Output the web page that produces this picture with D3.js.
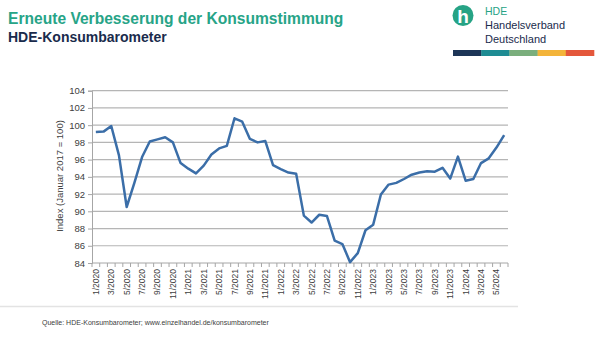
<!DOCTYPE html>
<html><head><meta charset="utf-8">
<script src="https://cdn.jsdelivr.net/npm/d3@7"></script>
<style>
html,body{margin:0;padding:0;background:#fff;}
svg{display:block;font-family:"Liberation Sans",Arial,sans-serif;}
</style></head>
<body><svg id="c" width="600" height="340"></svg>
<script>
const months = [];
for (let y = 2020; y <= 2024; y++) for (let m = 1; m <= 12; m++) { if (y === 2024 && m > 6) break; months.push(m + "/" + y); }
const values = [99.2,99.25,99.9,96.5,90.5,93.3,96.3,98.1,98.35,98.6,98.0,95.6,
  94.95,94.4,95.3,96.6,97.3,97.6,100.8,100.4,98.4,98.0,98.15,95.35,
  94.9,94.5,94.35,89.5,88.7,89.6,89.45,86.6,86.2,84.1,85.15,87.8,
  88.45,91.95,93.1,93.3,93.75,94.25,94.5,94.65,94.6,95.05,93.8,96.35,
  93.55,93.75,95.6,96.15,97.4,98.85];
const yTicks = [84,86,88,90,92,94,96,98,100,102,104];
const title = "Erneute Verbesserung der Konsumstimmung";
const subtitle = "HDE-Konsumbarometer";
const yLabel = "Index (Januar 2017 = 100)";
const source = "Quelle: HDE-Konsumbarometer; www.einzelhandel.de/konsumbarometer";
const barColors = ["#1d3557","#1e8c93","#7aae7c","#f3b43a","#e4573b"];

const svg = d3.select("#c");
const x = d3.scaleBand().domain(months).range([92, 508]).padding(0);
const y = d3.scaleLinear().domain([84,104]).range([263, 90.7]);

// title
svg.append("text").attr("x",8).attr("y",24).attr("fill","#27a487").attr("font-weight","bold").attr("font-size",15.6).text(title);
svg.append("text").attr("x",8).attr("y",42.3).attr("fill","#1a2b4c").attr("font-weight","bold").attr("font-size",14).text(subtitle);

// logo
const lg = svg.append("g");
lg.append("circle").attr("cx",463).attr("cy",15.5).attr("r",10.5).attr("fill","#26a385");
lg.append("text").attr("x",463).attr("y",23).attr("text-anchor","middle").attr("fill","#fff").attr("font-weight","bold").attr("font-size",19).text("h");
lg.append("text").attr("x",485).attr("y",15).attr("fill","#26a385").attr("font-size",10.5).text("HDE");
lg.append("text").attr("x",485).attr("y",29).attr("fill","#1a2b4c").attr("font-size",11).text("Handelsverband");
lg.append("text").attr("x",485).attr("y",43).attr("fill","#1a2b4c").attr("font-size",11).text("Deutschland");
const segW = (594-453)/barColors.length;
lg.selectAll("rect.bar").data(barColors).join("rect").attr("class","bar")
  .attr("x",(d,i)=>453+i*segW).attr("y",50).attr("width",segW+0.3).attr("height",6).attr("fill",d=>d);

// grid
svg.append("g").selectAll("line").data(yTicks.filter(t=>t>84)).join("line")
  .attr("x1",92).attr("x2",508).attr("y1",d=>y(d)).attr("y2",d=>y(d))
  .attr("stroke","#b5b5b5").attr("stroke-width",1.2);

// y axis
const ya = svg.append("g").attr("transform","translate(92,0)")
  .call(d3.axisLeft(y).tickValues(yTicks).tickSize(4).tickPadding(3).tickFormat(d3.format("d")));
ya.selectAll("path,line").attr("stroke","#a6a6a6");
ya.selectAll("text").attr("font-size",9.5).attr("fill","#404040").attr("font-family","Liberation Sans, Arial, sans-serif");

// x axis
const xa = svg.append("g").attr("transform","translate(0,263)");
xa.append("line").attr("x1",92).attr("x2",508).attr("stroke","#a6a6a6");
const bounds = months.map(m=>x(m)).concat([508]);
xa.selectAll("line.t").data(bounds).join("line").attr("class","t")
  .attr("x1",d=>d).attr("x2",d=>d).attr("y1",0).attr("y2",4).attr("stroke","#a6a6a6");
xa.selectAll("text").data(months.filter((m,i)=>i%2===0)).join("text")
  .attr("transform",d=>`translate(${x(d)+x.bandwidth()/2+3},6) rotate(-90)`)
  .attr("text-anchor","end").attr("font-size",8.5).attr("fill","#404040").text(d=>d);

// y label
svg.append("text").attr("transform","translate(63,176) rotate(-90)").attr("text-anchor","middle")
  .attr("font-size",9.5).attr("fill","#404040").text(yLabel);

// line
svg.append("path").datum(values)
  .attr("d", d3.line().x((d,i)=>x(months[i])+x.bandwidth()/2).y(d=>y(d)))
  .attr("fill","none").attr("stroke","#3b6ea8").attr("stroke-width",2.5).attr("stroke-linejoin","round");

// separator + source
svg.append("line").attr("x1",0).attr("x2",518).attr("y1",306.5).attr("y2",306.5).attr("stroke","#e3e3e3").attr("stroke-width",1.5);
svg.append("text").attr("x",42).attr("y",325).attr("font-size",7).attr("fill","#404040").text(source);
</script></body></html>
